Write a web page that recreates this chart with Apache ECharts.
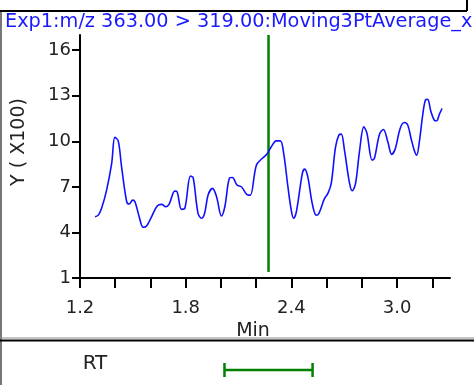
<!DOCTYPE html>
<html><head><meta charset="utf-8">
<script src="https://cdn.jsdelivr.net/npm/echarts@6/dist/echarts.min.js"></script>
<style>html,body{margin:0;padding:0;background:#fff}#c{width:474px;height:385px}</style>
</head><body><div id="c"></div>
<script>
// Retention time (min)
const times = [1.285,1.304,1.323,1.351,1.380,1.398,1.417,1.436,1.465,1.479,1.499,1.512,1.536,1.559,1.578,1.606,1.638,1.663,1.687,1.706,1.738,1.751,1.776,1.795,1.827,1.842,1.870,1.890,1.908,1.927,1.952,1.975,2.003,2.022,2.050,2.065,2.091,2.116,2.154,2.167,2.201,2.235,2.261,2.286,2.314,2.337,2.356,2.380,2.399,2.412,2.428,2.462,2.475,2.493,2.518,2.541,2.556,2.588,2.607,2.626,2.650,2.669,2.683,2.701,2.730,2.745,2.764,2.786,2.811,2.828,2.858,2.871,2.900,2.922,2.947,2.969,2.990,3.017,3.041,3.060,3.079,3.098,3.111,3.126,3.145,3.160,3.173,3.192,3.211,3.224,3.240,3.255];
// Intensity (x100)
const intensity = [5.03,5.14,5.61,6.79,8.57,10.26,10.03,8.32,6.02,5.87,6.13,6.02,5.03,4.34,4.42,5.03,5.74,5.85,5.69,5.87,6.72,6.68,5.52,5.59,7.71,7.62,5.26,4.93,5.30,6.46,6.90,6.35,5.08,5.69,7.60,7.62,7.12,7.01,6.46,6.46,8.43,8.88,9.16,9.64,10.03,10.03,9.20,7.01,5.47,4.93,5.36,7.89,8.17,7.66,5.91,5.13,5.26,6.24,6.57,7.23,9.60,10.41,10.47,9.42,7.23,6.74,7.23,9.31,10.95,10.56,8.76,8.88,10.47,10.78,9.97,9.14,9.53,10.85,11.24,11.07,10.19,9.38,9.09,9.97,11.72,12.71,12.76,11.94,11.39,11.35,11.79,12.16];
const yTicks = [1,4,7,10,13,16];
const xTicks = [1.2,1.4,1.6,1.8,2.0,2.2,2.4,2.6,2.8,3.0,3.2];
const xLabels = [1.2,1.8,2.4,3.0];
const rtCenter = 2.27;
const rtWindow = [2.02, 2.52];
const titleText = 'Exp1:m/z 363.00 > 319.00:Moving3PtAverage_x';

const chart = echarts.init(document.getElementById('c'), null, {renderer:'canvas'});
const FONT = '"DejaVu Sans", sans-serif';
const series = times.map((t,i)=>[t,intensity[i]]);

chart.setOption({
  animation:false,
  backgroundColor:'#fff',
  grid:[
    {left:80, right:24, top:35, bottom:107},
    {left:80, right:24, top:360, height:20}
  ],
  xAxis:[
    {type:'value', gridIndex:0, min:1.2, max:3.3,
     axisLine:{onZero:false, lineStyle:{color:'#000', width:2}},
     axisTick:{customValues:xTicks, length:10, inside:false, lineStyle:{color:'#000', width:2}},
     axisLabel:{customValues:xLabels, formatter:v=>Number(v).toFixed(1), margin:21, fontSize:18, color:'#222', fontFamily:FONT},
     splitLine:{show:false},
     name:'Min', nameLocation:'middle', nameGap:41,
     nameTextStyle:{fontSize:19, color:'#222', fontFamily:FONT, padding:[0,24,0,0]}},
    {type:'value', gridIndex:1, min:1.2, max:3.3, show:false}
  ],
  yAxis:[
    {type:'value', gridIndex:0, min:1, max:17,
     axisLine:{show:true, lineStyle:{color:'#000', width:2}},
     axisTick:{show:true, customValues:yTicks, length:8, lineStyle:{color:'#000', width:2}},
     axisLabel:{customValues:yTicks, margin:9, fontSize:18, color:'#222', fontFamily:FONT},
     splitLine:{show:false}},
    {type:'value', gridIndex:1, min:0, max:1, show:false}
  ],
  series:[
    {type:'line', xAxisIndex:0, yAxisIndex:0, data:series, showSymbol:false, smooth:0.35,
     lineStyle:{color:'#1010ff', width:1.6}},
    {type:'custom', xAxisIndex:0, yAxisIndex:0, data:[[rtCenter]],
     renderItem:(params, api)=>{
       const p1 = api.coord([api.value(0), 17]);
       const p2 = api.coord([api.value(0), 1.4]);
       return {type:'line', shape:{x1:p1[0],y1:p1[1],x2:p2[0],y2:p2[1]}, style:{stroke:'#008000', lineWidth:2.5}};
     }},
    {type:'custom', xAxisIndex:1, yAxisIndex:1, data:[[rtWindow[0], rtWindow[1]]],
     renderItem:(params, api)=>{
       const a = api.coord([api.value(0), 0.5]);
       const b = api.coord([api.value(1), 0.5]);
       const st = {stroke:'#008000', lineWidth:2.5};
       return {type:'group', children:[
         {type:'line', shape:{x1:a[0],y1:a[1],x2:b[0],y2:b[1]}, style:st},
         {type:'line', shape:{x1:a[0],y1:a[1]-7,x2:a[0],y2:a[1]+7}, style:st},
         {type:'line', shape:{x1:b[0],y1:b[1]-7,x2:b[0],y2:b[1]+7}, style:st}
       ]};
     }}
  ],
  graphic:[
    {type:'rect', shape:{x:0, y:12, width:2, height:373}, style:{fill:'#777'}},
    {type:'line', shape:{x1:0,y1:11,x2:467,y2:11}, style:{stroke:'#000', lineWidth:2}},
    {type:'line', shape:{x1:467,y1:0,x2:467,y2:11}, style:{stroke:'#000', lineWidth:2}},
    {type:'line', shape:{x1:0,y1:338,x2:474,y2:338}, style:{stroke:'#888', lineWidth:1}},
    {type:'line', shape:{x1:0,y1:340.5,x2:474,y2:340.5}, style:{stroke:'#000', lineWidth:2}},
    {type:'text', x:5, y:22, style:{text:titleText, fill:'#1a1aff', font:'19.3px '+FONT, verticalAlign:'middle'}},
    {type:'text', x:19, y:142, rotation:Math.PI/2, style:{text:'Y ( X100)', fill:'#222', font:'19px '+FONT, align:'center', verticalAlign:'middle'}},
    {type:'text', x:95, y:364, style:{text:'RT', fill:'#222', font:'20px '+FONT, align:'center', verticalAlign:'middle'}}
  ]
});
</script></body></html>
